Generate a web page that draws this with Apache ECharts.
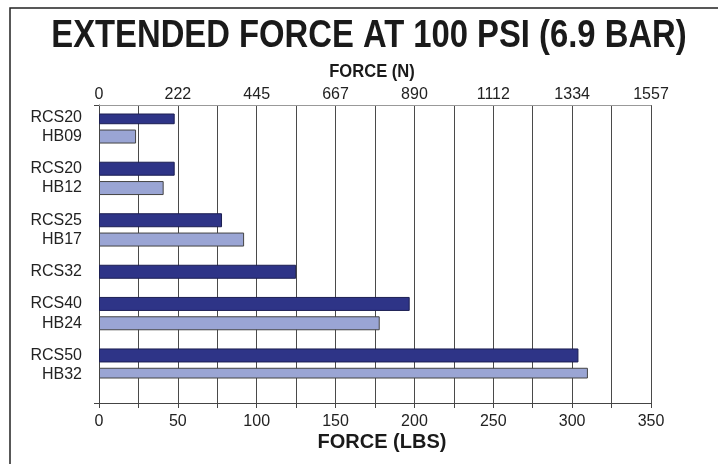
<!DOCTYPE html>
<html>
<head>
<meta charset="utf-8">
<script src="https://cdn.jsdelivr.net/npm/echarts@6/dist/echarts.min.js"></script>
<style>html,body{margin:0;padding:0;background:#fff;}#c{width:718px;height:464px;}</style>
</head>
<body>
<div id="c"></div>
<script>
// ---- data ----
const labels   = ['RCS20','HB09','RCS20','HB12','RCS25','HB17','RCS32','RCS40','HB24','RCS50','HB32'];
const forceLbs = [48, 23.5, 48, 41, 78, 92, 125, 197, 178, 304, 310];
const groupOf  = [0, 0, 1, 1, 2, 2, 3, 4, 4, 5, 5];
const topTickLabelsN = ['0','222','445','667','890','1112','1334','1557'];
const titleText = 'EXTENDED FORCE AT 100 PSI (6.9 BAR)';
const topAxisTitle = 'FORCE (N)';
const bottomAxisTitle = 'FORCE (LBS)';

// ---- build category slots (pairs close together, gap between groups) ----
const slots = [];
labels.forEach((l, i) => {
  if (i === 0) slots.push(0);
  else slots.push(slots[i - 1] + (groupOf[i] === groupOf[i - 1] ? 3 : 5));
});
const nSlots = slots[slots.length - 1] + 1;
const cats = new Array(nSlots).fill('');
const darkData = new Array(nSlots).fill('-');
const lightData = new Array(nSlots).fill('-');
labels.forEach((l, i) => {
  cats[slots[i]] = l;
  if (l.startsWith('RCS')) darkData[slots[i]] = forceLbs[i];
  else lightData[slots[i]] = forceLbs[i];
});

const FF = '"Liberation Sans", Arial, Helvetica, sans-serif';
const chart = echarts.init(document.getElementById('c'));
chart.setOption({
  animation: false,
  backgroundColor: '#fff',
  grid: [
    { left: 99, right: 67, top: 105, bottom: 61 },
    { left: 99, right: 67, top: 114, bottom: 86 }
  ],
  xAxis: [
    {
      gridIndex: 0, type: 'value', position: 'bottom', min: 0, max: 350, interval: 25,
      axisLine: { show: true, lineStyle: { color: '#444', width: 1 } },
      axisTick: { show: true, length: 5, lineStyle: { color: '#444' } },
      splitLine: { show: true, lineStyle: { color: '#4a4a4a', width: 1 } },
      axisLabel: {
        color: '#222', fontSize: 16, fontFamily: FF, margin: 11,
        formatter: v => (v % 50 === 0 ? String(v) : '')
      }
    },
    {
      gridIndex: 0, type: 'value', position: 'top', min: 0, max: 350, interval: 25,
      axisLine: { show: true, lineStyle: { color: '#999', width: 1 } },
      axisTick: { show: false },
      splitLine: { show: false },
      axisLabel: {
        color: '#222', fontSize: 16, fontFamily: FF, margin: 2,
        formatter: v => (v % 50 === 0 ? topTickLabelsN[v / 50] : '')
      }
    },
    { gridIndex: 1, type: 'value', min: 0, max: 350, show: false }
  ],
  yAxis: [
    {
      gridIndex: 0, type: 'category', data: [''],
      axisLine: { show: true, lineStyle: { color: '#444' } },
      axisTick: { show: true, length: 5, lineStyle: { color: '#444' } },
      axisLabel: { show: false }, splitLine: { show: false }
    },
    {
      gridIndex: 1, type: 'category', data: cats, inverse: true,
      axisLine: { show: false }, axisTick: { show: false }, splitLine: { show: false },
      axisLabel: { interval: 0, color: '#222', fontSize: 16, fontFamily: FF, margin: 17 }
    }
  ],
  series: [
    {
      type: 'bar', xAxisIndex: 2, yAxisIndex: 1, data: darkData, barWidth: 14, barGap: '-100%',
      itemStyle: { color: '#2e3487', borderColor: '#1c1f52', borderWidth: 1 }
    },
    {
      type: 'bar', xAxisIndex: 2, yAxisIndex: 1, data: lightData, barWidth: 14, barGap: '-100%',
      itemStyle: { color: '#9aa5d4', borderColor: '#444', borderWidth: 1 }
    }
  ],
  graphic: [
    { type: 'rect', shape: { x: 10, y: 8, width: 800, height: 600 }, style: { fill: 'none', stroke: '#222', lineWidth: 1.5 }, silent: true },
    { type: 'text', x: 369, y: 37, scaleX: 0.863, style: { text: titleText, font: 'bold 38px ' + FF, fill: '#1a1a1a', textAlign: 'center', textVerticalAlign: 'middle' } },
    { type: 'text', x: 372, y: 72, scaleX: 0.92, style: { text: topAxisTitle, font: 'bold 18px ' + FF, fill: '#1a1a1a', textAlign: 'center', textVerticalAlign: 'middle' } },
    { type: 'text', x: 382, y: 442, style: { text: bottomAxisTitle, font: 'bold 20px ' + FF, fill: '#1a1a1a', textAlign: 'center', textVerticalAlign: 'middle' } }
  ]
});
</script>
</body>
</html>
